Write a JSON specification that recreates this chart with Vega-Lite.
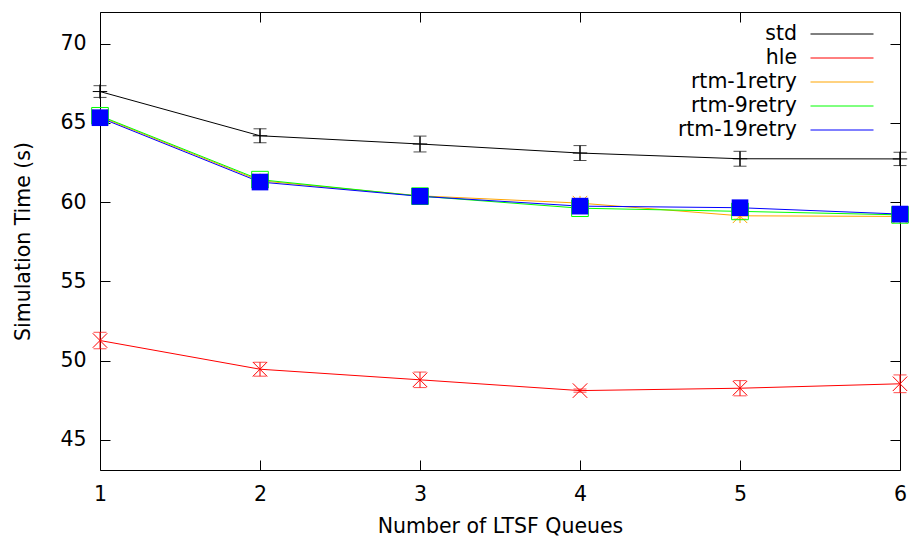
{
  "$schema": "https://vega.github.io/schema/vega-lite/v6.json",
  "width": 800,
  "height": 458,
  "autosize": "none",
  "padding": {"left": 100, "top": 12, "right": 9, "bottom": 70},
  "background": "white",
  "config": {
    "font": "DejaVu Sans",
    "view": {"stroke": "black", "strokeWidth": 1},
    "axis": {
      "domain": false,
      "grid": false,
      "tickSize": -10,
      "tickColor": "black",
      "tickWidth": 1,
      "labelFlush": false,
      "labelOverlap": false,
      "labelFontSize": 20.5,
      "labelColor": "black",
      "labelFont": "DejaVu Sans",
      "titleFont": "DejaVu Sans",
      "titleFontSize": 20.5,
      "titleFontWeight": "normal",
      "titleColor": "black"
    },
    "legend": {
      "orient": "none",
      "legendX": 731,
      "legendY": 11,
      "symbolType": "M-3,0L3,0",
      "symbolSize": 441,
      "symbolStrokeWidth": 1,
      "symbolOpacity": 1,
      "labelAlign": "right",
      "labelOffset": -56,
      "labelFontSize": 20.5,
      "labelFont": "DejaVu Sans",
      "labelColor": "black",
      "rowPadding": 2,
      "title": null
    }
  },
  "data": {
    "values": [
      {"series": "std", "q": 1, "t": 66.98, "err": 0.37},
      {"series": "std", "q": 2, "t": 64.19, "err": 0.44},
      {"series": "std", "q": 3, "t": 63.67, "err": 0.5},
      {"series": "std", "q": 4, "t": 63.1, "err": 0.47},
      {"series": "std", "q": 5, "t": 62.74, "err": 0.47},
      {"series": "std", "q": 6, "t": 62.73, "err": 0.42},
      {"series": "hle", "q": 1, "t": 51.27, "err": 0.52},
      {"series": "hle", "q": 2, "t": 49.46, "err": 0.44},
      {"series": "hle", "q": 3, "t": 48.79, "err": 0.49},
      {"series": "hle", "q": 4, "t": 48.11, "err": 0.1},
      {"series": "hle", "q": 5, "t": 48.26, "err": 0.48},
      {"series": "hle", "q": 6, "t": 48.54, "err": 0.56},
      {"series": "rtm-1retry", "q": 1, "t": 65.4, "err": 0.2},
      {"series": "rtm-1retry", "q": 2, "t": 61.35, "err": 0.2},
      {"series": "rtm-1retry", "q": 3, "t": 60.4, "err": 0.2},
      {"series": "rtm-1retry", "q": 4, "t": 59.94, "err": 0.2},
      {"series": "rtm-1retry", "q": 5, "t": 59.14, "err": 0.2},
      {"series": "rtm-1retry", "q": 6, "t": 59.1, "err": 0.2},
      {"series": "rtm-9retry", "q": 1, "t": 65.45, "err": 0.2},
      {"series": "rtm-9retry", "q": 2, "t": 61.42, "err": 0.2},
      {"series": "rtm-9retry", "q": 3, "t": 60.38, "err": 0.2},
      {"series": "rtm-9retry", "q": 4, "t": 59.62, "err": 0.2},
      {"series": "rtm-9retry", "q": 5, "t": 59.42, "err": 0.2},
      {"series": "rtm-9retry", "q": 6, "t": 59.2, "err": 0.2},
      {"series": "rtm-19retry", "q": 1, "t": 65.33, "err": 0.2},
      {"series": "rtm-19retry", "q": 2, "t": 61.27, "err": 0.2},
      {"series": "rtm-19retry", "q": 3, "t": 60.37, "err": 0.2},
      {"series": "rtm-19retry", "q": 4, "t": 59.75, "err": 0.2},
      {"series": "rtm-19retry", "q": 5, "t": 59.65, "err": 0.2},
      {"series": "rtm-19retry", "q": 6, "t": 59.25, "err": 0.2}
    ]
  },
  "resolve": {"axis": {"x": "independent", "y": "independent"}},
  "layer": [
    {
      "mark": {"type": "line", "strokeWidth": 1},
      "encoding": {
        "x": {"field": "q", "type": "quantitative",
              "scale": {"domain": [1, 6], "nice": false, "zero": false},
              "axis": {"values": [1, 2, 3, 4, 5, 6], "format": "d", "labelPadding": 24, "title": "Number of LTSF Queues", "titlePadding": 12}},
        "y": {"field": "t", "type": "quantitative",
              "scale": {"domain": [43.1, 72], "nice": false, "zero": false},
              "axis": {"values": [45, 50, 55, 60, 65, 70], "labelPadding": 24, "title": "Simulation Time (s)", "titlePadding": 26}},
        "color": {"field": "series", "type": "nominal",
                  "scale": {"domain": ["std", "hle", "rtm-1retry", "rtm-9retry", "rtm-19retry"],
                            "range": ["#000000", "#ff0000", "#ffa500", "#00ff00", "#0000ff"]}}
      }
    },
    {
      "mark": {"type": "errorbar", "ticks": {"size": 13}, "thickness": 1},
      "encoding": {
        "x": {"field": "q", "type": "quantitative", "axis": null},
        "y": {"field": "t", "type": "quantitative", "axis": null},
        "yError": {"field": "err"},
        "color": {"field": "series", "type": "nominal"}
      }
    },
    {
      "transform": [{"filter": "datum.series != 'rtm-19retry'"}],
      "mark": {"type": "point", "filled": false, "strokeWidth": 1, "size": 210, "opacity": 1},
      "encoding": {
        "x": {"field": "q", "type": "quantitative", "axis": null},
        "y": {"field": "t", "type": "quantitative", "axis": null},
        "stroke": {"field": "series", "type": "nominal", "legend": null,
                   "scale": {"domain": ["std", "hle", "rtm-1retry", "rtm-9retry"],
                             "range": ["#000000", "#ff0000", "#ffa500", "#00ff00"]}},
        "shape": {"field": "series", "type": "nominal", "legend": null,
                  "scale": {"domain": ["std", "hle", "rtm-1retry", "rtm-9retry"],
                            "range": ["M-1,0L1,0M0,-1L0,1", "M-1,-1L1,1M-1,1L1,-1", "M-1,0L1,0M0,-1L0,1M-1,-1L1,1M-1,1L1,-1", "M-1.15,-1.15L1.15,-1.15L1.15,1.15L-1.15,1.15Z"]}}
      }
    },
    {
      "transform": [{"filter": "datum.series == 'rtm-19retry'"}],
      "mark": {"type": "point", "filled": true, "size": 210, "opacity": 1, "shape": "M-1.15,-1.15L1.15,-1.15L1.15,1.15L-1.15,1.15Z", "color": "#0000ff"},
      "encoding": {
        "x": {"field": "q", "type": "quantitative",
              "axis": {"orient": "top", "values": [1, 2, 3, 4, 5, 6], "labels": false, "title": null}},
        "y": {"field": "t", "type": "quantitative",
              "axis": {"orient": "right", "values": [45, 50, 55, 60, 65, 70], "labels": false, "title": null}}
      }
    }
  ]
}
